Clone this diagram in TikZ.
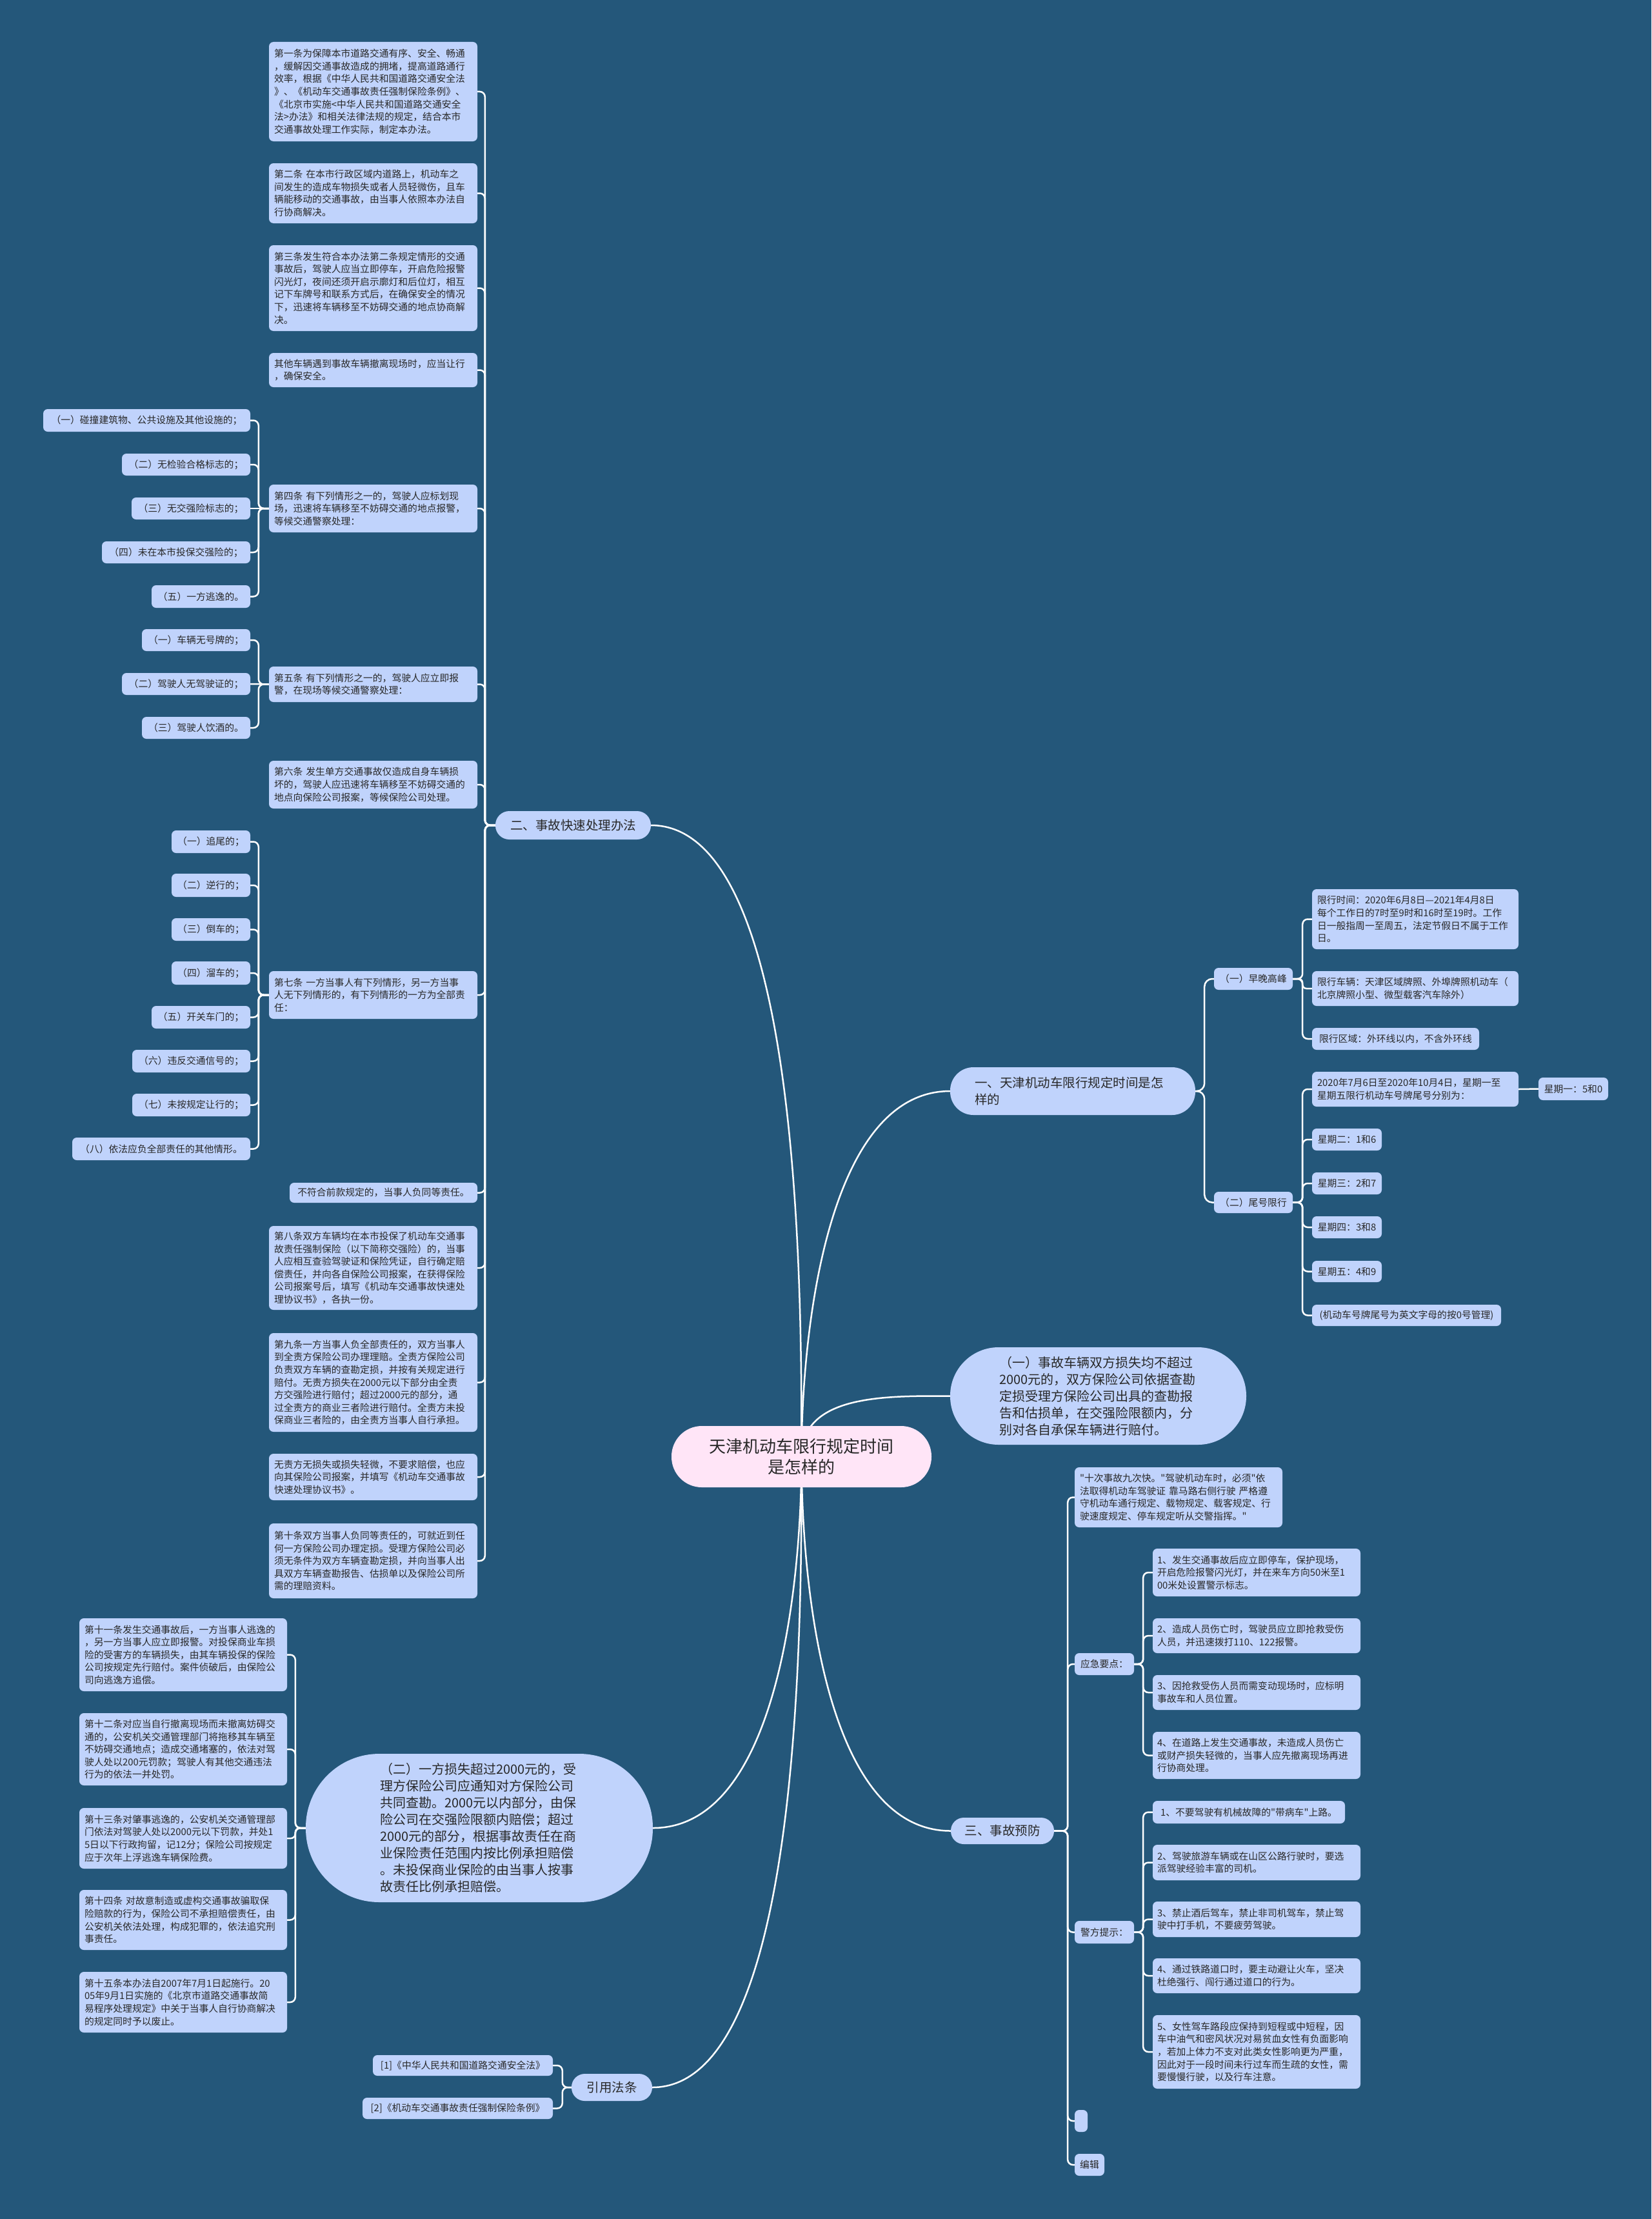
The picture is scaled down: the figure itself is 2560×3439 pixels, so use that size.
\documentclass[tikz,border=0pt]{standalone}
\usepackage{fontspec}
\setmainfont{Noto Sans CJK SC}
\font\qfont="Noto Sans CJK SC" at 14.8pt
\pgfdeclarelayer{back}\pgfdeclarelayer{bg}\pgfsetlayers{back,bg,main}
\definecolor{bgc}{RGB}{36,87,122}
\definecolor{nodec}{RGB}{192,211,252}
\definecolor{rootc}{RGB}{255,229,247}
\definecolor{txtc}{RGB}{40,40,40}
\newcommand\fsm{\fontsize{14.8}{19.6}\selectfont}
\newcommand\fpl{\fontsize{20}{26}\selectfont}
\newcommand\flv{\fontsize{19.5}{26}\selectfont}
\newcommand\frt{\fontsize{26}{32}\selectfont}
\newcommand\qq{{\qfont\char34}}
\tikzset{
 nbox/.style={fill=nodec, text=txtc, rounded corners=7pt, font=\fsm, align=left},
 none/.style={nbox, align=center},
 npill/.style={nbox, font=\fpl},
 nlvl/.style={nbox, font=\flv, align=center},
 nlvlL/.style={nbox, font=\flv, align=left},
 nroot/.style={fill=rootc, text=txtc, font=\frt, align=center},
 nconn/.style={draw=white, line width=2.5pt},
}
% #1 style #2 pad #3 name #4 x1 #5 y1 #6 x2 #7 y2 #8 text
\newcommand\nd[8]{%
  \pgfmathsetmacro\ndw{#6-#4}%
  \pgfmathsetmacro\ndh{#7-#5}%
  \pgfmathsetmacro\ndx{(#4+#6)/2}%
  \pgfmathsetmacro\ndy{(#5+#7)/2}%
  \pgfmathsetmacro\ndt{#6-#4-2*#2}%
  \node[#1,inner xsep=#2pt,inner ysep=0pt,minimum width=\ndw pt,minimum height=\ndh pt,text width=\ndt pt] (#3) at (\ndx,\ndy) {#8};}
\newcommand\br[4]{\draw[nconn,rounded corners=#4pt] (#1) -- ++(#2,0) |- (#3);}
\newcommand\st[2]{\draw[nconn] (#1) -- (#2);}
\begin{document}
\begin{tikzpicture}[x=1pt,y=-1pt]
\begin{pgfonlayer}{back}
\fill[bgc] (0,0) rectangle (2560,3439);
\end{pgfonlayer}
\useasboundingbox (0,0) rectangle (2560,3439);

% root and main branches
\nd{nroot,rounded corners=47pt}{20}{C}{1041}{2210}{1444}{2305}{天津机动车限行规定时间\\是怎样的}
\nd{nlvlL,rounded corners=36pt}{38}{L1}{1473}{1654}{1853}{1728}{一、天津机动车限行规定时间是怎\\样的}
\nd{npill,rounded corners=75pt}{76}{P1}{1473}{2088}{1932}{2239}{（一）事故车辆双方损失均不超过\\2000元的，双方保险公司依据查勘\\定损受理方保险公司出具的查勘报\\告和估损单，在交强险限额内，分\\别对各自承保车辆进行赔付。}
\nd{nlvl,rounded corners=21.5pt}{10}{L2}{768}{1257}{1009}{1301}{二、事故快速处理办法}
\nd{npill,rounded corners=114pt}{115}{P2}{474}{2718}{1012}{2948}{（二）一方损失超过2000元的，受\\理方保险公司应通知对方保险公司\\共同查勘。2000元以内部分，由保\\险公司在交强险限额内赔偿；超过\\2000元的部分，根据事故责任在商\\业保险责任范围内按比例承担赔偿\\。未投保商业保险的由当事人按事\\故责任比例承担赔偿。}
\nd{nlvl,rounded corners=20pt}{10}{L3}{1474}{2817}{1634}{2858}{三、事故预防}
\nd{nlvl,rounded corners=20.5pt}{10}{L4}{886}{3214}{1011}{3256}{引用法条}

% right: 一
\nd{none}{4}{R1}{1882}{1500}{2004}{1534}{（一）早晚高峰}
\nd{nbox}{8}{R1a}{2034}{1378}{2354}{1471}{限行时间：2020年6月8日—2021年4月8日\\每个工作日的7时至9时和16时至19时。工作\\日一般指周一至周五，法定节假日不属于工作\\日。}
\nd{nbox}{8}{R1b}{2034}{1505}{2354}{1559}{限行车辆：天津区域牌照、外埠牌照机动车（\\北京牌照小型、微型载客汽车除外）}
\nd{none}{4}{R1c}{2034}{1593}{2293}{1627}{限行区域：外环线以内，不含外环线}
\nd{none}{4}{R2}{1882}{1847}{2004}{1880}{（二）尾号限行}
\nd{nbox}{8}{R2a}{2034}{1661}{2354}{1715}{2020年7月6日至2020年10月4日，星期一至\\星期五限行机动车号牌尾号分别为：}
\nd{none}{4}{R2a1}{2385}{1670}{2493}{1705}{星期一：5和0}
\nd{none}{4}{R2b}{2034}{1749}{2142}{1783}{星期二：1和6}
\nd{none}{4}{R2c}{2034}{1817}{2142}{1851}{星期三：2和7}
\nd{none}{4}{R2d}{2034}{1885}{2142}{1919}{星期四：3和8}
\nd{none}{4}{R2e}{2034}{1954}{2142}{1987}{星期五：4和9}
\nd{none}{4}{R2f}{2034}{2022}{2327}{2055}{(机动车号牌尾号为英文字母的按0号管理)}

% right: 三
\nd{nbox}{8}{S0}{1666}{2274}{1988}{2367}{\qq 十次事故九次快。\qq 驾驶机动车时，必须\qq 依\\法取得机动车驾驶证 靠马路右侧行驶 严格遵\\守机动车通行规定、载物规定、载客规定、行\\驶速度规定、停车规定听从交警指挥。\qq}
\nd{none}{4}{S1}{1666}{2562}{1758}{2596}{应急要点：}
\nd{nbox}{7}{S1a}{1787}{2400}{2109}{2474}{1、发生交通事故后应立即停车，保护现场，\\开启危险报警闪光灯，并在来车方向50米至1\\00米处设置警示标志。}
\nd{nbox}{7}{S1b}{1787}{2508}{2109}{2562}{2、造成人员伤亡时，驾驶员应立即抢救受伤\\人员，并迅速拨打110、122报警。}
\nd{nbox}{7}{S1c}{1787}{2596}{2109}{2650}{3、因抢救受伤人员而需变动现场时，应标明\\事故车和人员位置。}
\nd{nbox}{7}{S1d}{1787}{2684}{2109}{2757}{4、在道路上发生交通事故，未造成人员伤亡\\或财产损失轻微的，当事人应先撤离现场再进\\行协商处理。}
\nd{none}{4}{S2}{1666}{2977}{1758}{3012}{警方提示：}
\nd{none}{4}{S2a}{1787}{2791}{2085}{2826}{1、不要驾驶有机械故障的\qq 带病车\qq 上路。}
\nd{nbox}{7}{S2b}{1787}{2859}{2109}{2914}{2、驾驶旅游车辆或在山区公路行驶时，要选\\派驾驶经验丰富的司机。}
\nd{nbox}{7}{S2c}{1787}{2947}{2109}{3002}{3、禁止酒后驾车，禁止非司机驾车，禁止驾\\驶中打手机，不要疲劳驾驶。}
\nd{nbox}{7}{S2d}{1787}{3035}{2109}{3089}{4、通过铁路道口时，要主动避让火车，坚决\\杜绝强行、闯行通过道口的行为。}
\nd{nbox}{7}{S2e}{1787}{3123}{2109}{3237}{5、女性驾车路段应保持到短程或中短程，因\\车中油气和密风状况对易贫血女性有负面影响\\，若加上体力不支对此类女性影响更为严重，\\因此对于一段时间未行过车而生疏的女性，需\\要慢慢行驶，以及行车注意。}
\nd{none}{2}{S3}{1666}{3270}{1686}{3304}{}
\nd{none}{4}{S4}{1666}{3338}{1712}{3372}{编辑}

% left: 二、事故快速处理办法
\nd{nbox}{8}{A1}{417}{65}{740}{219}{第一条为保障本市道路交通有序、安全、畅通\\，缓解因交通事故造成的拥堵，提高道路通行\\效率，根据《中华人民共和国道路交通安全法\\》、《机动车交通事故责任强制保险条例》、\\《北京市实施<中华人民共和国道路交通安全\\法>办法》和相关法律法规的规定，结合本市\\交通事故处理工作实际，制定本办法。}
\nd{nbox}{8}{A2}{417}{253}{740}{346}{第二条 在本市行政区域内道路上，机动车之\\间发生的造成车物损失或者人员轻微伤，且车\\辆能移动的交通事故，由当事人依照本办法自\\行协商解决。}
\nd{nbox}{8}{A3}{417}{380}{740}{513}{第三条发生符合本办法第二条规定情形的交通\\事故后，驾驶人应当立即停车，开启危险报警\\闪光灯，夜间还须开启示廓灯和后位灯，相互\\记下车牌号和联系方式后，在确保安全的情况\\下，迅速将车辆移至不妨碍交通的地点协商解\\决。}
\nd{nbox}{8}{A4}{417}{547}{740}{600}{其他车辆遇到事故车辆撤离现场时，应当让行\\，确保安全。}
\nd{nbox}{8}{A5}{417}{751}{740}{825}{第四条 有下列情形之一的，驾驶人应标划现\\场，迅速将车辆移至不妨碍交通的地点报警，\\等候交通警察处理：}
\nd{nbox}{8}{A6}{417}{1033}{740}{1088}{第五条 有下列情形之一的，驾驶人应立即报\\警，在现场等候交通警察处理：}
\nd{nbox}{8}{A7}{417}{1179}{740}{1253}{第六条 发生单方交通事故仅造成自身车辆损\\坏的，驾驶人应迅速将车辆移至不妨碍交通的\\地点向保险公司报案，等候保险公司处理。}
\nd{nbox}{8}{A8}{417}{1505}{740}{1579}{第七条 一方当事人有下列情形，另一方当事\\人无下列情形的，有下列情形的一方为全部责\\任：}
\nd{none}{4}{A9}{449}{1833}{740}{1864}{不符合前款规定的，当事人负同等责任。}
\nd{nbox}{8}{A10}{417}{1900}{740}{2030}{第八条双方车辆均在本市投保了机动车交通事\\故责任强制保险（以下简称交强险）的，当事\\人应相互查验驾驶证和保险凭证，自行确定赔\\偿责任，并向各自保险公司报案，在获得保险\\公司报案号后，填写《机动车交通事故快速处\\理协议书》，各执一份。}
\nd{nbox}{8}{A11}{417}{2066}{740}{2219}{第九条一方当事人负全部责任的，双方当事人\\到全责方保险公司办理理赔。全责方保险公司\\负责双方车辆的查勘定损，并按有关规定进行\\赔付。无责方损失在2000元以下部分由全责\\方交强险进行赔付；超过2000元的部分，通\\过全责方的商业三者险进行赔付。全责方未投\\保商业三者险的，由全责方当事人自行承担。}
\nd{nbox}{8}{A12}{417}{2253}{740}{2325}{无责方无损失或损失轻微，不要求赔偿，也应\\向其保险公司报案，并填写《机动车交通事故\\快速处理协议书》。}
\nd{nbox}{8}{A13}{417}{2361}{740}{2477}{第十条双方当事人负同等责任的，可就近到任\\何一方保险公司办理定损。受理方保险公司必\\须无条件为双方车辆查勘定损，并向当事人出\\具双方车辆查勘报告、估损单以及保险公司所\\需的理赔资料。}

% 第四条 items
\nd{none}{4}{B1}{67}{634}{388}{669}{（一）碰撞建筑物、公共设施及其他设施的；}
\nd{none}{4}{B2}{189}{703}{388}{737}{（二）无检验合格标志的；}
\nd{none}{4}{B3}{204}{771}{388}{805}{（三）无交强险标志的；}
\nd{none}{4}{B4}{158}{839}{388}{873}{（四）未在本市投保交强险的；}
\nd{none}{4}{B5}{235}{907}{388}{942}{（五）一方逃逸的。}
% 第五条 items
\nd{none}{4}{C1}{220}{975}{388}{1009}{（一）车辆无号牌的；}
\nd{none}{4}{C2}{189}{1043}{388}{1077}{（二）驾驶人无驾驶证的；}
\nd{none}{4}{C3}{220}{1111}{388}{1145}{（三）驾驶人饮酒的。}
% 第七条 items
\nd{none}{4}{D1}{266}{1287}{388}{1322}{（一）追尾的；}
\nd{none}{4}{D2}{266}{1354}{388}{1390}{（二）逆行的；}
\nd{none}{4}{D3}{266}{1423}{388}{1458}{（三）倒车的；}
\nd{none}{4}{D4}{266}{1490}{388}{1526}{（四）溜车的；}
\nd{none}{4}{D5}{235}{1559}{388}{1594}{（五）开关车门的；}
\nd{none}{4}{D6}{205}{1627}{388}{1662}{（六）违反交通信号的；}
\nd{none}{4}{D7}{205}{1695}{388}{1730}{（七）未按规定让行的；}
\nd{none}{4}{D8}{112}{1763}{388}{1798}{（八）依法应负全部责任的其他情形。}

% left bottom: (二) items
\nd{nbox}{8}{E1}{123}{2508}{445}{2621}{第十一条发生交通事故后，一方当事人逃逸的\\，另一方当事人应立即报警。对投保商业车损\\险的受害方的车辆损失，由其车辆投保的保险\\公司按规定先行赔付。案件侦破后，由保险公\\司向逃逸方追偿。}
\nd{nbox}{8}{E2}{123}{2655}{445}{2767}{第十二条对应当自行撤离现场而未撤离妨碍交\\通的，公安机关交通管理部门将拖移其车辆至\\不妨碍交通地点；造成交通堵塞的，依法对驾\\驶人处以200元罚款；驾驶人有其他交通违法\\行为的依法一并处罚。}
\nd{nbox}{8}{E3}{123}{2802}{445}{2896}{第十三条对肇事逃逸的，公安机关交通管理部\\门依法对驾驶人处以2000元以下罚款，并处1\\5日以下行政拘留，记12分；保险公司按规定\\应于次年上浮逃逸车辆保险费。}
\nd{nbox}{8}{E4}{123}{2929}{445}{3022}{第十四条 对故意制造或虚构交通事故骗取保\\险赔款的行为，保险公司不承担赔偿责任，由\\公安机关依法处理，构成犯罪的，依法追究刑\\事责任。}
\nd{nbox}{8}{E5}{123}{3056}{445}{3150}{第十五条本办法自2007年7月1日起施行。20\\05年9月1日实施的《北京市道路交通事故简\\易程序处理规定》中关于当事人自行协商解决\\的规定同时予以废止。}

% 引用法条 items
\nd{none}{4}{F1}{578}{3185}{857}{3217}{[1]《中华人民共和国道路交通安全法》}
\nd{none}{4}{F2}{562}{3251}{857}{3284}{[2]《机动车交通事故责任强制保险条例》}

\begin{pgfonlayer}{bg}
% root connectors
\draw[nconn] (C.center) to[out=90,in=180,looseness=0.8] (L1.west);
\draw[nconn] (C.center) to[out=90,in=180] (P1.west);
\draw[nconn] (C.center) to[out=90,in=0,looseness=0.6] (L2.east);
\draw[nconn] (C.center) to[out=-90,in=0,looseness=0.8] (P2.east);
\draw[nconn] (C.center) to[out=-90,in=180,looseness=0.8] (L3.west);
\draw[nconn] (C.center) to[out=-90,in=0,looseness=0.6] (L4.east);
% 一
\br{L1.east}{14}{R1.west}{12}
\br{L1.east}{14}{R2.west}{12}
\br{R1.east}{15}{R1a.west}{8}
\br{R1.east}{15}{R1b.west}{6}
\br{R1.east}{15}{R1c.west}{8}
\st{R2a.east}{R2a1.west}
\foreach \n in {R2a,R2b,R2c,R2d,R2e,R2f}{\br{R2.east}{15}{\n.west}{8}}
% 三
\foreach \n in {S0,S1,S2,S3,S4}{\br{L3.east}{21}{\n.west}{8}}
\foreach \n in {S1a,S1b,S1c,S1d}{\br{S1.east}{14}{\n.west}{8}}
\foreach \n in {S2a,S2b,S2c,S2d,S2e}{\br{S2.east}{14}{\n.west}{8}}
% 二、事故快速处理办法
\foreach \n in {A1,A2,A3,A4,A5,A6,A7,A8,A9,A10,A11,A12,A13}{\br{L2.west}{-16}{\n.east}{8}}
\foreach \n in {B1,B2,B4,B5}{\br{A5.west}{-16}{\n.east}{8}}
\st{A5.west}{B3.east}
\foreach \n in {C1,C3}{\br{A6.west}{-16}{\n.east}{8}}
\st{A6.west}{C2.east}
\foreach \n in {D1,D2,D3,D4,D5,D6,D7,D8}{\br{A8.west}{-16}{\n.east}{8}}
% (二)
\foreach \n in {E1,E2,E4,E5}{\br{P2.west}{-16}{\n.east}{8}}
\br{P2.west}{-16}{E3.east}{7}
% 引用法条
\foreach \n in {F1,F2}{\br{L4.west}{-14}{\n.east}{8}}
\end{pgfonlayer}
\end{tikzpicture}
\end{document}
